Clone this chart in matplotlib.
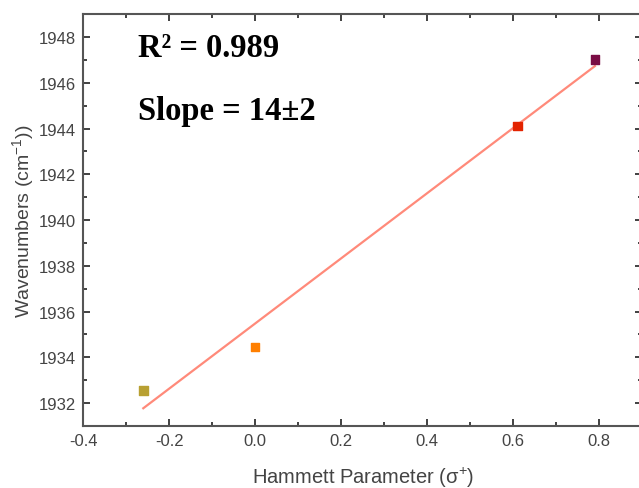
import numpy as np
import matplotlib
matplotlib.use('Agg')
import matplotlib.pyplot as plt
from matplotlib.ticker import MultipleLocator

# data
sigma = [-0.26, 0.0, 0.61, 0.79]
wavenumber = [1932.55, 1934.45, 1944.12, 1947.02]
point_colors = ['#b8a032', '#ff7f00', '#e32300', '#7b0d45']

# linear fit
z = np.polyfit(sigma, wavenumber, 1)
p = np.poly1d(z)
xfit = np.array([min(sigma), max(sigma)])

plt.rcParams['font.family'] = ['Liberation Sans', 'DejaVu Sans']
plt.rcParams['mathtext.fontset'] = 'custom'
plt.rcParams['mathtext.rm'] = 'Liberation Sans'
plt.rcParams['mathtext.it'] = 'Liberation Sans:italic'
plt.rcParams['mathtext.bf'] = 'Liberation Sans:bold'

fig = plt.figure(figsize=(6.39, 4.89), dpi=100)
ax = fig.add_axes([0.13, 0.127, 0.875, 0.842])

ax.plot(xfit, p(xfit), color='#ff8a7a', lw=1.6, zorder=2)
ax.scatter(sigma, wavenumber, c=point_colors, marker='s', s=38, zorder=3)

ax.set_xlim(-0.4, 0.9)
ax.set_ylim(1931, 1949)
ax.xaxis.set_minor_locator(MultipleLocator(0.1))
ax.yaxis.set_major_locator(MultipleLocator(2))
ax.yaxis.set_minor_locator(MultipleLocator(1))
ax.set_xticks([-0.4, -0.2, 0.0, 0.2, 0.4, 0.6, 0.8])
ax.set_xticklabels(['-0.4', '-0.2', '0.0', '0.2', '0.4', '0.6', '0.8'])
ax.tick_params(which='both', direction='in', top=True, right=True,
               colors='#333333', labelcolor='#444444', labelsize=12, width=1.3)
ax.tick_params(which='major', length=5, pad=5)
ax.tick_params(which='minor', length=3)
for s in ax.spines.values():
    s.set_color('#555555')
    s.set_linewidth(1.5)

ax.set_xlabel('Hammett Parameter (σ$^{+}$)', fontsize=14.5, color='#444444', labelpad=12)
ax.set_ylabel('Wavenumbers (cm$^{-1}$))', fontsize=14, color='#444444', labelpad=2)

ax.text(0.098, 0.918, 'R² = 0.989', transform=ax.transAxes,
        fontsize=23.5, fontweight='bold', family='Liberation Serif', va='center')
ax.text(0.098, 0.765, 'Slope = 14±2', transform=ax.transAxes,
        fontsize=23.5, fontweight='bold', family='Liberation Serif', va='center')

fig.savefig('out.png', dpi=100)
